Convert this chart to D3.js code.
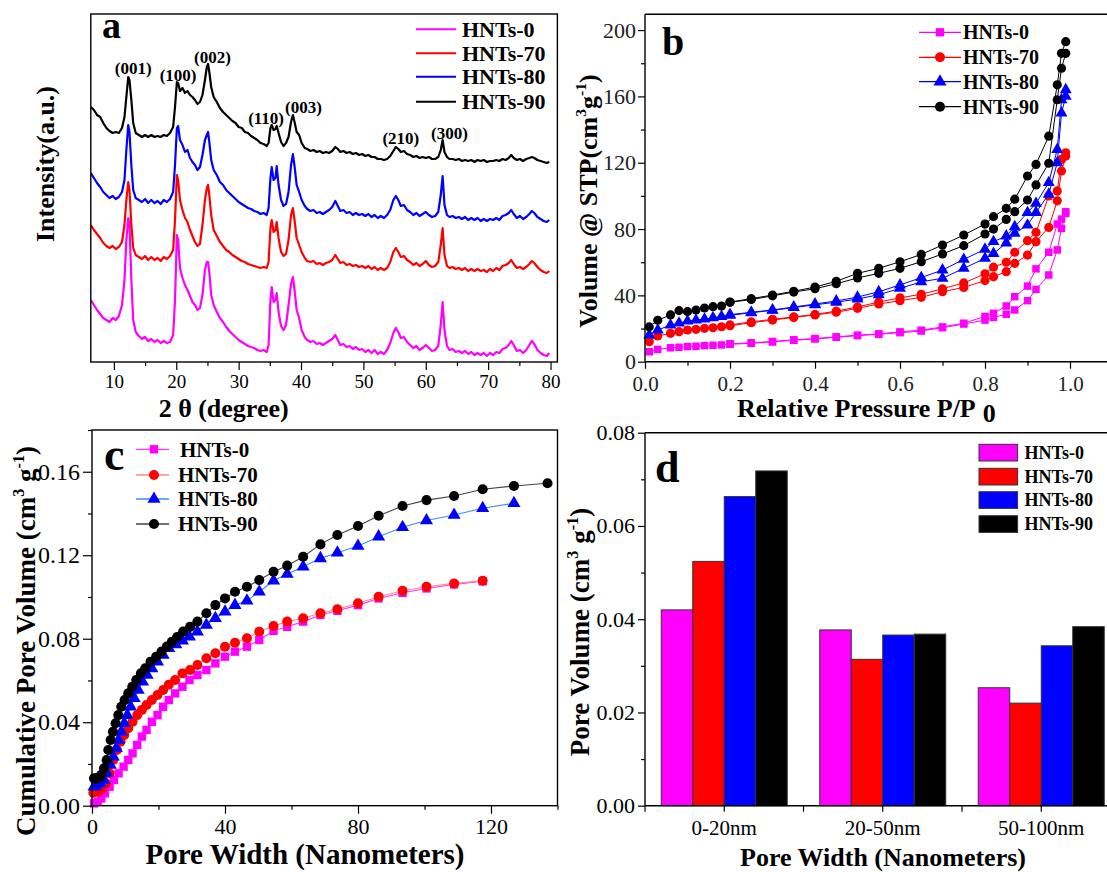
<!DOCTYPE html>
<html><head><meta charset="utf-8">
<script src="https://cdn.jsdelivr.net/npm/d3@7"></script>
<style>
html,body{margin:0;padding:0;background:#fff;overflow:hidden}
text{font-family:"Liberation Serif","Times New Roman",serif}
</style>
</head><body>
<svg id="fig" width="1107" height="872" xmlns="http://www.w3.org/2000/svg"></svg>
<script>
// ---------------- DATA ----------------
const seriesNames = ["HNTs-0","HNTs-70","HNTs-80","HNTs-90"];
const seriesColors = ["#ff00ff","#ff0000","#0000ff","#000000"];
const lineColorsC = ["#ff33ff","#ff8a8a","#3d8bff","#444444"];

// panel a : XRD (2θ in degree, intensity in a.u.)
const twoTheta = [
6.3,6.8,7.3,7.8,8.3,8.8,9.3,9.8,10.3,10.8,
11.3,11.7,12.0,12.3,12.5,12.8,13.1,13.5,14.0,14.5,
15.0,15.5,16.0,16.5,17.0,17.5,18.0,18.5,19.0,19.5,
19.8,20.1,20.3,20.6,21.0,21.4,21.8,22.2,22.6,23.0,
23.4,23.8,24.2,24.6,24.9,25.1,25.3,25.6,26.0,26.5,
27.0,27.5,28.0,28.5,29.0,29.5,30.0,30.5,31.0,31.5,
32.0,32.5,33.0,33.5,34.0,34.5,34.8,35.1,35.3,35.6,
35.9,36.1,36.4,36.8,37.2,37.6,38.0,38.4,38.7,39.0,
39.3,39.7,40.1,40.6,41.0,41.5,42.0,42.5,43.0,43.5,
44.0,44.5,45.0,45.5,45.9,46.3,46.8,47.3,47.8,48.3,
48.8,49.3,49.8,50.3,50.8,51.3,51.8,52.3,52.8,53.3,
53.8,54.3,54.8,55.2,55.6,56.0,56.5,57.0,57.5,58.0,
58.5,59.0,59.5,60.0,60.5,61.0,61.5,62.0,62.4,62.7,
63.0,63.4,63.8,64.3,64.8,65.3,65.8,66.3,66.8,67.3,
67.8,68.3,68.8,69.3,69.8,70.3,70.8,71.3,71.8,72.3,
72.8,73.3,73.7,74.1,74.6,75.1,75.6,76.1,76.6,77.0,
77.4,77.9,78.4,78.9,79.4,79.8];
const xrd0 = [
62,57,52,48,44,42,40,44,42,46,
57,82,122,144,137,82,42,30,26,23,
25,21,23,20,22,19,21,19,20,27,
62,127,122,94,84,77,72,66,60,57,
52,54,67,92,100,100,90,67,57,50,
44,40,35,31,28,25,22,20,18,16,
15,14,12,11,12,10,17,62,75,60,
62,69,50,36,32,37,57,78,85,70,
52,44,32,25,22,20,21,18,19,17,
19,21,23,27,22,17,18,15,16,13,
15,12,13,10,12,9,12,8,10,8,
12,19,29,34,30,24,25,20,17,14,
16,12,14,17,14,11,12,16,37,60,
32,16,12,13,10,11,9,11,8,10,
7,9,7,9,6,9,7,10,9,13,
14,17,21,17,11,12,9,12,17,21,
18,12,9,7,6,9];
const xrd70 = [
137,132,128,124,119,116,114,116,113,115,
120,137,162,180,172,137,114,107,105,103,
106,102,105,102,104,101,105,103,106,112,
142,187,182,162,152,144,140,132,126,120,
116,118,137,162,174,177,167,147,132,126,
120,116,112,110,107,105,103,101,100,98,
97,96,95,94,95,94,100,134,142,130,
132,140,124,110,106,108,122,147,154,140,
124,117,110,104,101,100,101,98,99,97,
99,100,102,107,103,99,100,97,98,96,
97,95,96,94,96,93,95,92,94,92,
94,100,110,114,110,105,106,102,100,97,
99,96,98,101,97,95,96,100,117,134,
107,96,94,95,93,94,92,94,91,93,
91,93,91,92,90,93,91,94,92,96,
97,99,102,98,94,95,93,95,98,101,
99,95,92,90,89,91];
const xrd80 = [
189,184,179,175,170,167,164,166,163,165,
170,182,212,237,230,197,172,164,162,160,
163,159,162,159,161,158,162,160,163,170,
197,234,236,222,217,210,212,204,200,197,
192,195,207,222,227,230,220,202,192,187,
180,177,172,169,166,163,160,158,156,154,
153,151,150,148,149,147,154,184,195,182,
184,196,177,162,156,158,170,197,208,194,
177,170,162,156,153,151,152,149,150,148,
150,152,155,161,156,151,152,149,150,147,
149,147,148,146,148,145,147,144,146,144,
147,152,162,166,162,156,157,152,150,147,
149,146,148,150,147,145,146,150,167,186,
157,147,145,146,144,145,143,145,142,144,
142,144,141,143,141,143,142,144,142,146,
147,149,152,148,144,146,143,145,148,151,
149,145,143,141,140,142];
const xrd90 = [
255,252,247,245,239,234,231,229,230,229,
234,245,265,285,282,262,239,229,227,225,
227,225,227,225,226,225,227,226,229,235,
255,280,279,271,274,269,271,267,265,262,
258,260,267,282,295,298,290,275,265,260,
254,250,247,244,241,239,235,234,230,229,
226,224,222,219,218,216,219,234,237,232,
233,236,229,220,216,219,225,240,247,239,
230,227,219,214,213,211,212,210,211,209,
210,209,211,215,213,210,211,209,210,208,
209,207,208,206,207,205,205,203,203,202,
203,206,211,215,213,210,211,208,207,205,
206,204,205,204,205,203,203,205,212,222,
210,205,203,203,202,203,201,202,201,202,
200,202,201,202,200,201,201,202,201,203,
202,204,207,204,202,203,201,203,204,205,
204,202,201,200,199,200];
const xTicksA = [10,20,30,40,50,60,70,80];
const xMinorA = [15,25,35,45,55,65,75];
const peakLabels = ["(001)","(100)","(002)","(110)","(003)","(210)","(300)"];
const peakLabel2Theta = [13.1,20.3,25.8,34.4,40.4,56.0,63.8];
const peakLabelIntensity = [294,287,305,244,255,224,229];

// panel b : N2 isotherms (relative pressure, volume cm3/g)
const pAds = [0.01,0.03,0.06,0.08,0.10,0.12,0.14,0.16,0.18,0.20,0.25,0.30,0.35,0.40,0.45,0.50,0.55,0.60,0.65,0.70,0.75,0.80,0.82,0.85,0.87,0.90,0.92,0.95,0.97,0.98,0.99];
const pDes = [0.99,0.98,0.97,0.95,0.92,0.90,0.87,0.85,0.82,0.80,0.75,0.70,0.65,0.60,0.55,0.50,0.45,0.40,0.35,0.30,0.25,0.20];
const ads0  = [6.0,7.4,8.4,8.7,9.1,9.3,9.7,9.9,10.1,10.5,11.1,11.9,12.9,13.7,14.7,15.7,16.5,17.5,18.5,20.5,22.7,25.1,26.7,28.6,31.2,36.8,43.6,52.3,67.4,80.4,89.5];
const des0  = [90.5,86,83,66,56,45.6,39.2,33.6,29.2,27.3,23.2,21,19,18,16.8,16,15,14,13.2,12.2,11.4,10.8];
const ads70 = [12.1,15.5,17.1,18.1,19.1,19.5,20.1,20.5,21.1,21.7,23.5,25.1,26.7,28.2,29.8,32.2,34.8,36.8,38.8,42.2,44.8,48.9,51.3,54.3,59.3,64.3,72.4,81.0,97,115,124];
const des70 = [126,122,103,100,78,73,66,60,57,53,47.5,44,40.7,38.5,36,33,30.5,28.5,27,25.6,24,22.2];
const ads80 = [16.1,19.1,22.1,23.3,24.5,25.1,25.7,26.5,27.3,28.0,29.5,31.0,32.6,34.3,35.9,37.8,40.4,44.2,48.2,50.3,56.3,62.3,65.3,71.5,77.4,82.4,90,101,120,150,160];
const des80 = [164,158,128,108,95.5,89.9,81.4,75.8,72.4,67.8,61.7,55.3,50.7,46.3,42.2,39.0,36.6,34.8,33.0,31.2,29.8,28.4];
const ads90 = [21,25,28.2,30.8,30.2,31.2,32.4,33.2,33.6,35.8,37.5,39.7,42,44,47,50.5,53.3,56.3,60.3,65,70,77,80,85.8,90.5,97.5,106.6,119.7,158,177,186];
const des90 = [193,186,167,136,119,112,98,92.5,87.5,83,76.4,70.4,64.7,60.3,56.3,53.3,48.5,45,42.5,40.2,38,36];
const xTicksB = [0,0.2,0.4,0.6,0.8,1.0];
const xMinorB = [0.1,0.3,0.5,0.7,0.9];
const yTicksB = [0,40,80,120,160,200];
const yMinorB = [20,60,100,140,180];

// panel c : cumulative pore volume (pore width nm, cm3/g)
const cum0 = [[0.6,0.0011],[1.7,0.0019],[2.8,0.0035],[3.9,0.0059],[5.3,0.0091],[6.6,0.0123],[8.0,0.0155],[9.5,0.0187],[10.9,0.0219],[12.2,0.0251],[13.6,0.0291],[15.0,0.0331],[16.4,0.0363],[18.0,0.0402],[19.7,0.0434],[21.4,0.0474],[23.1,0.0506],[25.0,0.0538],[27.2,0.057],[29.3,0.0602],[31.7,0.0626],[34.4,0.065],[37.1,0.0682],[40,0.0714],[43,0.0738],[46.6,0.0762],[50.3,0.0794],[54.6,0.0838],[58.7,0.0857],[63.5,0.0882],[68.7,0.0914],[73.8,0.0934],[80,0.0961],[86.2,0.0993],[93.4,0.102],[100.6,0.1041],[108.9,0.106],[117.5,0.1075]];
const cum70 = [[0.4,0.0062],[1.8,0.0067],[3.1,0.0083],[4.2,0.0107],[5.3,0.0155],[6.4,0.0219],[7.5,0.0267],[8.6,0.0307],[9.7,0.0339],[10.9,0.0371],[12.2,0.0402],[13.6,0.0434],[15.0,0.0459],[16.4,0.0482],[18.0,0.0506],[19.7,0.053],[21.4,0.0554],[23.1,0.058],[25.0,0.0602],[27.2,0.0634],[29.5,0.065],[31.7,0.0674],[34.4,0.0706],[37.1,0.073],[40,0.0762],[43,0.0781],[46.6,0.0802],[50.3,0.0834],[54.6,0.0861],[58.7,0.0882],[63.5,0.0898],[68.7,0.0922],[73.8,0.0941],[80,0.097],[86.2,0.1001],[93.4,0.103],[100.6,0.1049],[108.9,0.1065],[117.5,0.1078]];
const cum80 = [[0.6,0.0091],[1.1,0.0094],[2.5,0.0107],[3.6,0.0123],[4.5,0.0155],[5.5,0.0195],[6.4,0.0235],[7.3,0.0275],[8.0,0.0315],[8.8,0.0354],[9.7,0.0395],[10.6,0.0434],[11.6,0.0474],[12.7,0.0515],[13.9,0.0554],[15.2,0.0594],[16.6,0.0626],[18.0,0.0658],[19.7,0.069],[21.4,0.0722],[23.1,0.0754],[25.2,0.0772],[27.2,0.079],[29.3,0.081],[31.7,0.0834],[34.4,0.0866],[37.1,0.0898],[40,0.0929],[43,0.0961],[46.6,0.0982],[50.3,0.1025],[54.6,0.1078],[58.7,0.111],[63.5,0.1145],[68.7,0.1185],[73.8,0.1212],[80,0.1244],[86.2,0.1289],[93.4,0.1334],[100.6,0.1366],[108.9,0.1393],[117.5,0.1425],[126.9,0.1449]];
const cum90 = [[0.6,0.0131],[1.2,0.0128],[1.7,0.0134],[2.3,0.0137],[2.8,0.0148],[3.6,0.0179],[4.4,0.0219],[4.9,0.0267],[5.6,0.0315],[6.3,0.0354],[7.1,0.0395],[7.9,0.0434],[8.8,0.0474],[9.8,0.0506],[10.9,0.0538],[12.1,0.057],[13.3,0.0602],[14.7,0.0634],[16.0,0.0658],[17.6,0.069],[19.3,0.0714],[20.9,0.0738],[22.5,0.0762],[24.0,0.0785],[25.6,0.0808],[27.4,0.0834],[29.5,0.0857],[31.7,0.0882],[34.4,0.0922],[37.1,0.0961],[40.0,0.0993],[43.0,0.1025],[46.6,0.1049],[50.3,0.1081],[54.6,0.1121],[58.7,0.115],[63.5,0.1193],[68.7,0.1252],[73.8,0.1297],[80.0,0.134],[86.2,0.1389],[93.4,0.1436],[100.6,0.1464],[108.9,0.1484],[117.5,0.1516],[126.9,0.1532],[137.0,0.1545]];
const xTicksC = [0,40,80,120];
const xMinorC = [20,60,100,140];
const yTicksC = [0,0.04,0.08,0.12,0.16];
const yMinorC = [0.02,0.06,0.10,0.14,0.18];

// panel d : pore volume by range
const poreRanges = ["0-20nm","20-50nm","50-100nm"];
const bar0  = [0.0420,0.0377,0.0253];
const bar70 = [0.0524,0.0314,0.0220];
const bar80 = [0.0663,0.0366,0.0343];
const bar90 = [0.0718,0.0368,0.0384];
const yTicksD = [0,0.02,0.04,0.06,0.08];
const yMinorD = [0.01,0.03,0.05,0.07];

// ---------------- DRAW ----------------
const svg = d3.select("#fig");
const defs = svg.append("defs");
const BLACK = "#000";

function styleTicks(g, size, weight, fill){
  g.select(".domain").remove();
  g.selectAll(".tick line").attr("stroke",BLACK).attr("stroke-width",1.2);
  g.selectAll(".tick text").attr("font-size",size).attr("font-family",'"Liberation Serif","Times New Roman",serif')
    .attr("font-weight",weight||"normal").attr("fill",fill||BLACK);
}
function addText(x,y,str,size,opts){
  opts=opts||{};
  return svg.append("text").attr("x",x).attr("y",y).attr("font-size",size)
    .attr("font-weight",opts.weight||"bold").attr("text-anchor",opts.anchor||"start").attr("fill",BLACK).text(str);
}
function rotTitle(x,y,size,parts){
  const t = svg.append("text").attr("transform",`translate(${x},${y}) rotate(-90)`)
    .attr("text-anchor","middle").attr("font-size",size).attr("font-weight","bold").attr("fill",BLACK);
  let shift=0;
  parts.forEach(p=>{
    const ts=t.append("tspan").text(p[0]);
    if(p[1]==="sup"){ const d=-0.42*size-shift; ts.attr("font-size",size*0.6).attr("dy",d); shift+=d; }
    else if(shift!==0){ ts.attr("dy",-shift); shift=0; }
  });
  return t;
}
function frameLine(x1,y1,x2,y2){
  svg.append("line").attr("x1",x1).attr("y1",y1).attr("x2",x2).attr("y2",y2).attr("stroke",BLACK).attr("stroke-width",1.4);
}

// ===== Panel a =====
const xA = d3.scaleLinear().domain([6.3,81.1]).range([90.8,557.4]);
const yA = d3.scaleLinear().domain([0,348]).range([362,14]);
defs.append("clipPath").attr("id","clipA").append("rect").attr("x",91).attr("y",15).attr("width",466).attr("height",346);
const xrdSeries=[xrd0,xrd70,xrd80,xrd90];
const lineA=d3.line().x(d=>xA(d[0])).y(d=>yA(d[1]));
const gA=svg.append("g").attr("clip-path","url(#clipA)");
xrdSeries.forEach((arr,i)=>{
  const pts=twoTheta.map((t,j)=>[t,arr[j]]).filter(d=>d[1]!=null);
  gA.append("path").datum(pts).attr("d",lineA).attr("fill","none").attr("stroke",seriesColors[i]).attr("stroke-width",2.2).attr("stroke-linejoin","round");
});
svg.append("rect").attr("x",xA.range()[0]).attr("y",yA(348)).attr("width",xA.range()[1]-xA.range()[0]).attr("height",yA(0)-yA(348))
  .attr("fill","none").attr("stroke",BLACK).attr("stroke-width",1.4);
const axA=svg.append("g").attr("transform",`translate(0,${yA(0)})`).call(d3.axisBottom(xA).tickValues(xTicksA).tickSize(8).tickPadding(5).tickFormat(d3.format("d")));
styleTicks(axA,19);
const axAm=svg.append("g").attr("transform",`translate(0,${yA(0)})`).call(d3.axisBottom(xA).tickValues(xMinorA).tickSize(4).tickFormat(""));
styleTicks(axAm,19);
peakLabels.forEach((s,i)=>{
  svg.append("text").attr("x",xA(peakLabel2Theta[i])).attr("y",yA(peakLabelIntensity[i])).attr("dy","0.35em")
   .attr("text-anchor","middle").attr("font-size",17).attr("font-weight","bold").text(s);
});
addText(102,38,"a",38);
seriesNames.forEach((s,i)=>{
  const y=[29.3,53.3,76.7,101.7][i];
  svg.append("line").attr("x1",416).attr("x2",456).attr("y1",y).attr("y2",y).attr("stroke",seriesColors[i]).attr("stroke-width",2);
  svg.append("text").attr("x",462).attr("y",y).attr("dy","0.35em").attr("font-size",22).attr("font-weight","bold").text(s);
});
addText(xA(27.6),417,"2 θ (degree)",26,{anchor:"middle"});
rotTitle(54,164,26,[["Intensity(a.u.)"]]);

// ===== Panel b =====
const xB = d3.scaleLinear().domain([0,1.08]).range([645,1104]);
const yB = d3.scaleLinear().domain([0,210]).range([361.7,13.5]);
const symB=[d3.symbolSquare,d3.symbolCircle,d3.symbolTriangle,d3.symbolCircle];
const sizeB=[56,66,62,66];
const adsB=[ads0,ads70,ads80,ads90], desB=[des0,des70,des80,des90];
const lineB=d3.line().x(d=>xB(d[0])).y(d=>yB(d[1]));
const gB=svg.append("g");
[0,1,2,3].forEach(i=>{
  const a=pAds.map((p,j)=>[p,adsB[i][j]]);
  const d=pDes.map((p,j)=>[p,desB[i][j]]);
  [a,d].forEach(pts=>{
    gB.append("path").datum(pts).attr("d",lineB).attr("fill","none").attr("stroke",seriesColors[i]).attr("stroke-width",1);
    gB.selectAll(null).data(pts).enter().append("path")
      .attr("transform",p=>`translate(${xB(p[0])},${yB(p[1])})`)
      .attr("d",d3.symbol().type(symB[i]).size(sizeB[i])).attr("fill",seriesColors[i]);
  });
});
frameLine(xB(0),yB(0),1107,yB(0));
frameLine(xB(0),yB(0),xB(0),14.3);
frameLine(xB(0),14.3,1107,14.3);
const axBx=svg.append("g").attr("transform",`translate(0,${yB(0)})`).call(d3.axisBottom(xB).tickValues(xTicksB).tickSize(7).tickPadding(7).tickFormat(d3.format(".1f")));
styleTicks(axBx,21,"normal","#222");
const axBxm=svg.append("g").attr("transform",`translate(0,${yB(0)})`).call(d3.axisBottom(xB).tickValues(xMinorB).tickSize(4).tickFormat(""));
styleTicks(axBxm,21);
const axBy=svg.append("g").attr("transform",`translate(${xB(0)},0)`).call(d3.axisLeft(yB).tickValues(yTicksB).tickSize(7).tickPadding(2).tickFormat(d3.format("d")));
styleTicks(axBy,22,"normal","#222");
const axBym=svg.append("g").attr("transform",`translate(${xB(0)},0)`).call(d3.axisLeft(yB).tickValues(yMinorB).tickSize(4).tickFormat(""));
styleTicks(axBym,21);
addText(662,55,"b",40);
seriesNames.forEach((s,i)=>{
  const y=[32.3,57.3,81.7,106.7][i];
  svg.append("line").attr("x1",919).attr("x2",961).attr("y1",y).attr("y2",y).attr("stroke",seriesColors[i]).attr("stroke-width",1.2);
  svg.append("path").attr("transform",`translate(940,${y})`).attr("d",d3.symbol().type(symB[i]).size(sizeB[i]+12)).attr("fill",seriesColors[i]);
  svg.append("text").attr("x",963).attr("y",y).attr("dy","0.35em").attr("font-size",20).attr("font-weight","bold").text(s);
});
{
  const t=svg.append("text").attr("x",737).attr("y",417).attr("font-size",26).attr("font-weight","bold").text("Relative Pressure P/P");
  t.append("tspan").attr("dx",7).attr("dy",5).text("0");
}
rotTitle(597,201,26,[["Volume @ STP(cm"],["3","sup"],["g"],["-1","sup"],[")"]]);

// ===== Panel c =====
const xC = d3.scaleLinear().domain([0,140]).range([92,557.5]);
const yC = d3.scaleLinear().domain([0,0.18]).range([805.7,430]);
defs.append("clipPath").attr("id","clipC").append("rect").attr("x",80).attr("y",425).attr("width",490).attr("height",392);
const cumSeries=[cum0,cum70,cum80,cum90];
const symC=[d3.symbolSquare,d3.symbolCircle,d3.symbolTriangle,d3.symbolCircle];
const sizeC=[70,78,74,80];
const lineC=d3.line().x(d=>xC(d[0])).y(d=>yC(d[1]));
const gC=svg.append("g").attr("clip-path","url(#clipC)");
cumSeries.forEach((pts,i)=>{
  gC.append("path").datum(pts).attr("d",lineC).attr("fill","none").attr("stroke",lineColorsC[i]).attr("stroke-width",1.1);
});
cumSeries.forEach((pts,i)=>{
  gC.selectAll(null).data(pts).enter().append("path")
    .attr("transform",p=>`translate(${xC(p[0])},${yC(p[1])})`)
    .attr("d",d3.symbol().type(symC[i]).size(sizeC[i])).attr("fill",seriesColors[i]);
});
svg.append("rect").attr("x",xC(0)).attr("y",yC(0.18)).attr("width",xC(140)-xC(0)).attr("height",yC(0)-yC(0.18))
  .attr("fill","none").attr("stroke",BLACK).attr("stroke-width",1.4);
const axCx=svg.append("g").attr("transform",`translate(0,${yC(0)})`).call(d3.axisBottom(xC).tickValues(xTicksC).tickSize(8).tickPadding(5).tickFormat(d3.format("d")));
styleTicks(axCx,22);
const axCxm=svg.append("g").attr("transform",`translate(0,${yC(0)})`).call(d3.axisBottom(xC).tickValues(xMinorC).tickSize(4).tickFormat(""));
styleTicks(axCxm,22);
const axCy=svg.append("g").attr("transform",`translate(${xC(0)},0)`).call(d3.axisLeft(yC).tickValues(yTicksC).tickSize(9).tickPadding(3).tickFormat(d3.format(".2f")));
styleTicks(axCy,24);
const axCym=svg.append("g").attr("transform",`translate(${xC(0)},0)`).call(d3.axisLeft(yC).tickValues(yMinorC).tickSize(4).tickFormat(""));
styleTicks(axCym,23);
addText(104,470,"c",46);
seriesNames.forEach((s,i)=>{
  const y=[449.3,475,499,524][i];
  svg.append("line").attr("x1",136).attr("x2",169).attr("y1",y).attr("y2",y).attr("stroke",lineColorsC[i]).attr("stroke-width",1.3);
  svg.append("path").attr("transform",`translate(154,${y})`).attr("d",d3.symbol().type(symC[i]).size(sizeC[i])).attr("fill",seriesColors[i]);
  svg.append("text").attr("x",i===0?180:178).attr("y",y).attr("dy","0.35em").attr("font-size",21).attr("font-weight","bold").text(s);
});
addText(305,864,"Pore Width (Nanometers)",29,{anchor:"middle"});
rotTitle(35,641,27,[["Cumulative Pore Volume (cm"],["3","sup"],[" g"],["-1","sup"],[")"]]);

// ===== Panel d =====
const yD = d3.scaleLinear().domain([0,0.08]).range([805.7,432.7]);
const xD = d3.scaleBand().domain(poreRanges).range([645,1120.5]).paddingInner(0).paddingOuter(0);
const xDi = d3.scaleBand().domain(seriesNames).range([0,xD.bandwidth()]).paddingInner(0).paddingOuter(0.516);
const barSeries=[bar0,bar70,bar80,bar90];
const gD=svg.append("g");
poreRanges.forEach((r,k)=>{
  seriesNames.forEach((s,i)=>{
    const v=barSeries[i][k];
    gD.append("rect").attr("x",xD(r)+xDi(s)).attr("y",yD(v)).attr("width",xDi.bandwidth()).attr("height",yD(0)-yD(v))
      .attr("fill",seriesColors[i]).attr("stroke","#333").attr("stroke-width",1);
  });
});
frameLine(645,yD(0),1107,yD(0));
frameLine(645,yD(0),645,yD(0.08));
frameLine(645,yD(0.08),1107,yD(0.08));
const axDy=svg.append("g").attr("transform","translate(645,0)").call(d3.axisLeft(yD).tickValues(yTicksD).tickSize(7).tickPadding(3).tickFormat(d3.format(".2f")));
styleTicks(axDy,22);
const axDym=svg.append("g").attr("transform","translate(645,0)").call(d3.axisLeft(yD).tickValues(yMinorD).tickSize(4).tickFormat(""));
styleTicks(axDym,22);
const axDx=svg.append("g").attr("transform",`translate(0,${yD(0)})`).call(d3.axisBottom(xD).tickSize(6).tickPadding(8));
styleTicks(axDx,21);
const bounds=poreRanges.map(r=>xD(r));
svg.append("g").selectAll("line").data(bounds).enter().append("line")
  .attr("x1",d=>d).attr("x2",d=>d).attr("y1",yD(0)).attr("y2",yD(0)+6).attr("stroke",BLACK).attr("stroke-width",1.2);
addText(655,481.7,"d",44);
seriesNames.forEach((s,i)=>{
  const y=[444.3,468.3,491.7,515.7][i];
  svg.append("rect").attr("x",979).attr("y",y).attr("width",38.6).attr("height",16.7).attr("fill",seriesColors[i]).attr("stroke","#333").attr("stroke-width",1);
  svg.append("text").attr("x",1024.6).attr("y",y+8.35).attr("dy","0.35em").attr("font-size",18).attr("font-weight","bold").text(s);
});
addText(883,866,"Pore Width (Nanometers)",26,{anchor:"middle"});
rotTitle(589,632,27,[["Pore Volume (cm"],["3","sup"],[" g"],["-1","sup"],[")"]]);
</script>
</body></html>
